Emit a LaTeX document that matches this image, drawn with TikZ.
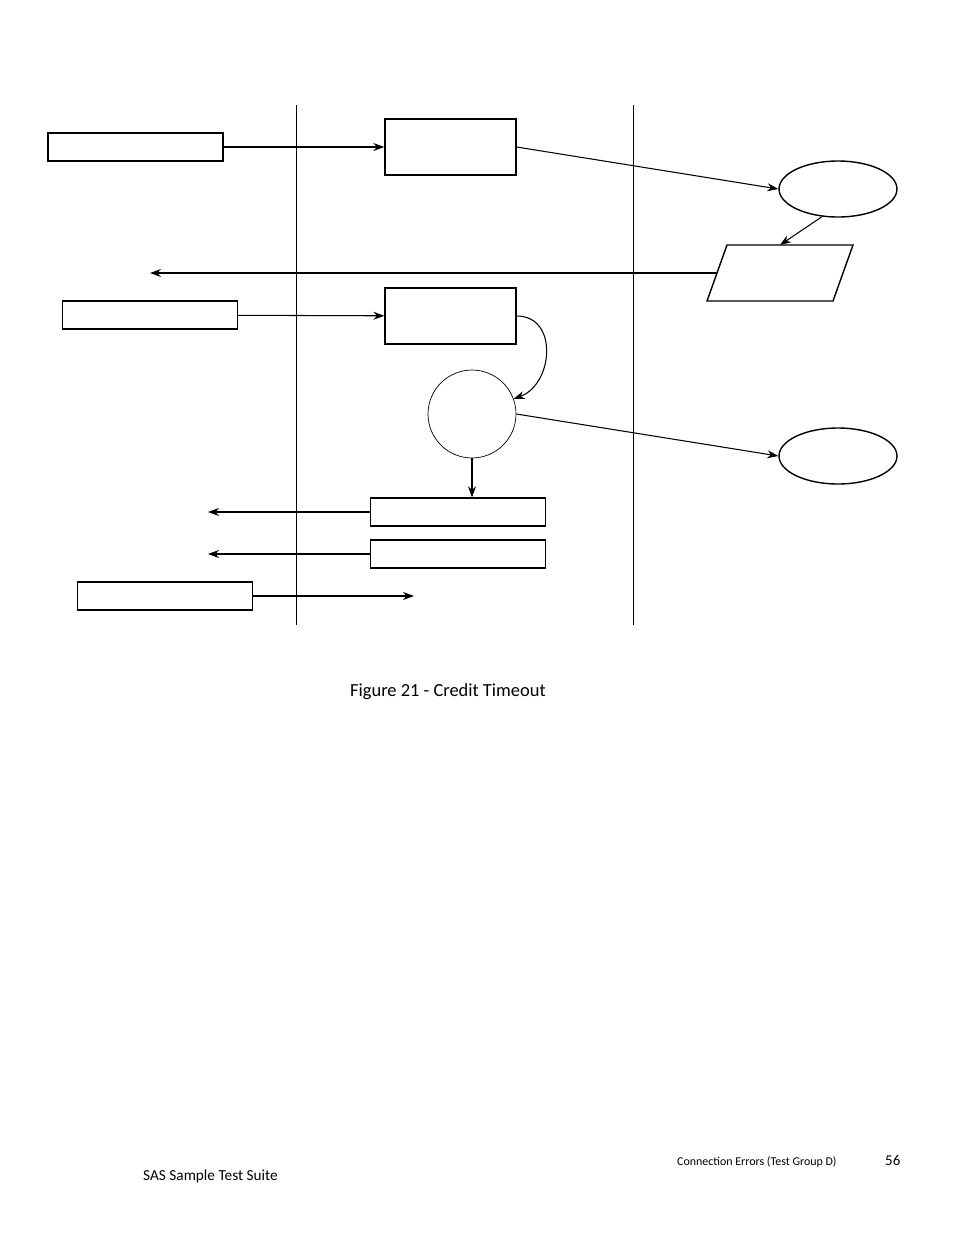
\documentclass[tikz,border=0pt]{standalone}
\usepackage{fontspec}
\setmainfont{Carlito}
\usetikzlibrary{arrows.meta,shapes.geometric,positioning}

\begin{document}
\begin{tikzpicture}[
  x=0.02cm, y=-0.02cm,
  box/.style={rectangle, draw, thick, inner sep=0pt, minimum width=3.5cm, minimum height=0.56cm},
  proc/.style={rectangle, draw, thick, inner sep=0pt, minimum width=2.62cm, minimum height=1.12cm},
  oval/.style={ellipse, draw, thick, inner sep=0pt, minimum width=2.36cm, minimum height=1.12cm},
  arrow/.style={-{Stealth[length=2.2mm,width=1.6mm]}, semithick},
  bigarrow/.style={arrow, thick}
]
  \useasboundingbox (0,0) rectangle (954,1235);

  % swim lanes
  \draw (296,105) -- (296,625);
  \draw (633,105) -- (633,625);

  \node[box] (req1) at (135.5,147) {};
  \node[proc] (rx1) at (450.5,147) {};
  \node[oval] (ev1) at (838,189) {};
  % parallelogram
  \draw[thick] (707,301) -- (727,245) -- (853,245) -- (833,301) -- cycle;
  \coordinate (out1) at (780,245);
  \coordinate (out1w) at (717,273);
  \node[box] (req2) at (150,315) {};
  \node[proc] (rx2) at (450.5,316) {};
  \node[circle, draw, inner sep=0pt, minimum size=1.76cm] (tmr) at (472,414) {};
  \node[oval] (ev2) at (838,456) {};
  \node[box] (rsp1) at (458,512) {};
  \node[box] (rsp2) at (458,554) {};
  \node[box] (req3) at (165,596) {};
  \coordinate (endA) at (150,273);
  \coordinate (endB) at (208,512);
  \coordinate (endC) at (208,554);
  \coordinate (endD) at (414,596);

  \draw[arrow] (req1) -- (rx1);
  \draw[arrow] (rx1.east) -- (ev1.west);
  \draw[arrow] (ev1.-120) -- (out1);
  \draw[bigarrow] (out1w) -- (endA);
  \draw[arrow] (req2) -- (rx2);
  \draw[arrow] (rx2.east) to[out=0, in=20, looseness=1.3] (tmr.20);
  \draw[arrow] (tmr.east) -- (ev2.west);
  \draw[arrow] (tmr.south) -- (tmr.south |- rsp1.north);
  \draw[bigarrow] (rsp1) -- (endB);
  \draw[arrow] (rsp2) -- (endC);
  \draw[arrow] (req3) -- (endD);

  \node[anchor=west, font=\fontsize{10.5}{12}\selectfont] (cap) at (344,692) {Figure 21 - Credit Timeout};
  \node[anchor=west, font=\fontsize{6.8}{8}\selectfont] (foot1) at (671,1162) {Connection Errors (Test Group D)};
  \node[anchor=west, font=\fontsize{8.5}{10}\selectfont] (page) at (879,1160) {56};
  \node[anchor=west, font=\fontsize{8.7}{10}\selectfont] (foot2) at (137,1176) {SAS Sample Test Suite};
\end{tikzpicture}
\end{document}
